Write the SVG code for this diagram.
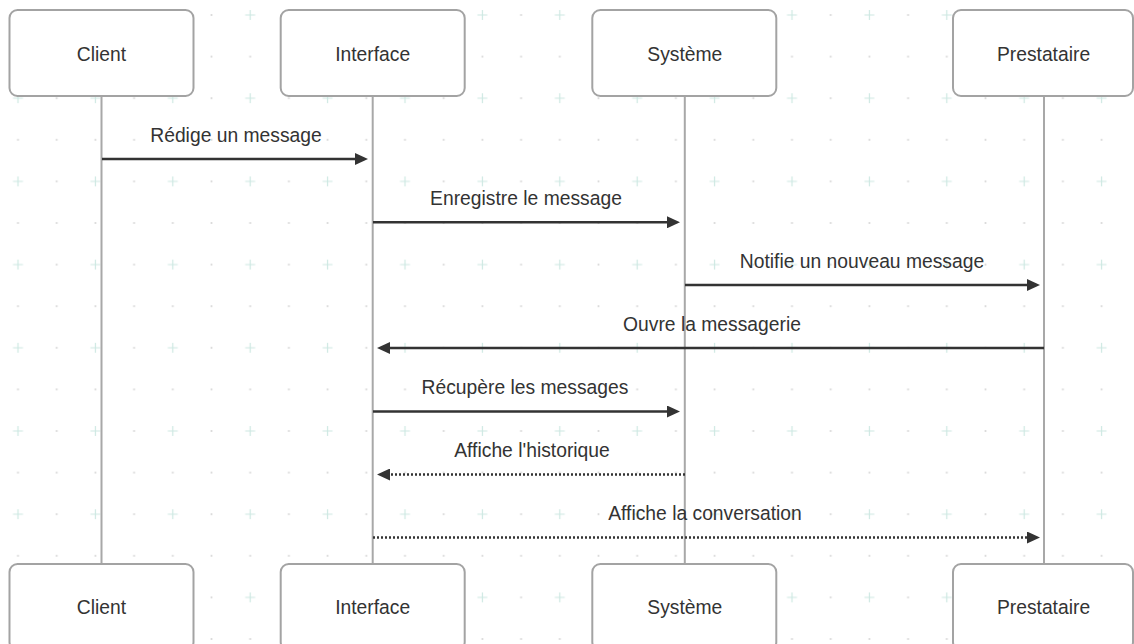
<svg xmlns="http://www.w3.org/2000/svg" width="1134" height="644" viewBox="0 0 1134 644">
<style>
.box{fill:#ffffff;stroke:#a3a3a3;stroke-width:2}
.life{stroke:#a8a8a8;stroke-width:2;fill:none}
.msg{stroke:#333333;stroke-width:2.5;fill:none}
.dot{stroke-dasharray:2 2}
text{font-family:"Liberation Sans",Arial,Helvetica,sans-serif;font-size:19.3px;fill:#333333;text-anchor:middle}
</style>
<defs>
<pattern id="grid" patternUnits="userSpaceOnUse" x="-1.35" y="-5.8" width="77.4" height="83.2">
<path d="M14.35 20.8h10M19.35 15.8v10" stroke="#cde8e2" stroke-width="1.2"/>
<circle cx="58.05" cy="20.8" r="1.1" fill="#d9d9d9"/>
<circle cx="19.35" cy="62.4" r="1.1" fill="#d9d9d9"/>
<circle cx="58.05" cy="62.4" r="1.1" fill="#d9d9d9"/>
</pattern>
<marker id="arr" markerUnits="userSpaceOnUse" markerWidth="13" markerHeight="12" refX="7" refY="6" orient="auto">
<path d="M0 0L13 6L0 12z" fill="#333333"/>
</marker>
</defs>
<rect x="0" y="0" width="1134" height="644" fill="#ffffff"/>
<rect x="0" y="0" width="1134" height="644" fill="url(#grid)"/>
<g id="lifelines">
<line class="life" x1="101.5" y1="96" x2="101.5" y2="564"/>
<line class="life" x1="372.7" y1="96" x2="372.7" y2="564"/>
<line class="life" x1="684.8" y1="96" x2="684.8" y2="564"/>
<line class="life" x1="1044" y1="96" x2="1044" y2="564"/>
</g>
<g id="connectors">
<line class="msg" x1="102" y1="159" x2="362" y2="159" marker-end="url(#arr)"/>
<text x="236" y="141.5">Rédige un message</text>
<line class="msg" x1="373" y1="222.3" x2="674" y2="222.3" marker-end="url(#arr)"/>
<text x="526" y="205">Enregistre le message</text>
<line class="msg" x1="685" y1="285" x2="1034" y2="285" marker-end="url(#arr)"/>
<text x="862" y="267.5">Notifie un nouveau message</text>
<line class="msg" x1="1044" y1="348" x2="383" y2="348" marker-end="url(#arr)"/>
<text x="712" y="330.5">Ouvre la messagerie</text>
<line class="msg" x1="373" y1="411.5" x2="674" y2="411.5" marker-end="url(#arr)"/>
<text x="525" y="394">Récupère les messages</text>
<line class="msg dot" x1="685" y1="474.5" x2="383" y2="474.5" marker-end="url(#arr)"/>
<text x="532" y="457">Affiche l'historique</text>
<line class="msg dot" x1="373" y1="537.5" x2="1034" y2="537.5" marker-end="url(#arr)"/>
<text x="705" y="520">Affiche la conversation</text>
</g>
<g id="client-top"><rect class="box" x="9.5" y="10" width="184" height="86" rx="8"/><text x="101.5" y="61">Client</text></g>
<g id="interface-top"><rect class="box" x="280.7" y="10" width="184" height="86" rx="8"/><text x="372.7" y="61">Interface</text></g>
<g id="systeme-top"><rect class="box" x="592.3" y="10" width="184" height="86" rx="8"/><text x="684.8" y="61">Système</text></g>
<g id="prestataire-top"><rect class="box" x="953" y="10" width="180" height="86" rx="8"/><text x="1043.5" y="61">Prestataire</text></g>
<g id="client-bottom"><rect class="box" x="9.5" y="564" width="184" height="86" rx="8"/><text x="101.5" y="614">Client</text></g>
<g id="interface-bottom"><rect class="box" x="280.7" y="564" width="184" height="86" rx="8"/><text x="372.7" y="614">Interface</text></g>
<g id="systeme-bottom"><rect class="box" x="592.3" y="564" width="184" height="86" rx="8"/><text x="684.8" y="614">Système</text></g>
<g id="prestataire-bottom"><rect class="box" x="953" y="564" width="180" height="86" rx="8"/><text x="1043.5" y="614">Prestataire</text></g>
</svg>
